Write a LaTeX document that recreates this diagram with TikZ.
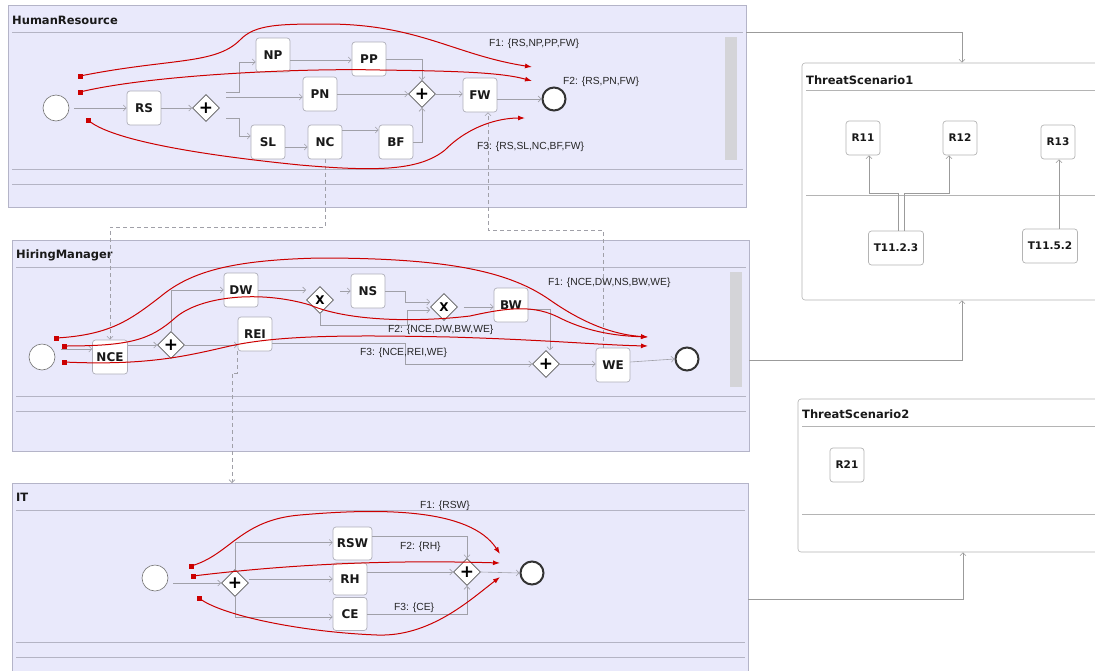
\documentclass[tikz,border=0pt]{standalone}
\usepackage{fontspec}
\setmainfont{DejaVu Sans}
\newfontfamily\lblfont{Liberation Sans}
\usetikzlibrary{shapes.geometric,arrows.meta}
\definecolor{lanefill}{RGB}{233,233,251}
\definecolor{laneborder}{RGB}{180,180,200}
\definecolor{clLine}{RGB}{180,180,196}
\definecolor{taskborder}{RGB}{175,175,185}
\definecolor{tsborder}{RGB}{180,180,180}
\definecolor{seqcol}{RGB}{160,160,168}
\definecolor{conncol}{RGB}{155,155,155}
\definecolor{redcol}{RGB}{204,0,0}
\definecolor{scrollcol}{RGB}{212,212,216}
\begin{document}
\begin{tikzpicture}[x=1pt,y=-1pt,
  lane/.style={draw=laneborder, fill=lanefill, line width=0.7pt, inner sep=0pt},
  lline/.style={draw=clLine, line width=0.7pt},
  lanetitle/.style={anchor=west, font=\fontsize{11.5}{13}\selectfont\bfseries, text=black!90, inner sep=0pt},
  task/.style={draw=taskborder, fill=white, rounded corners=3pt, minimum width=34pt, minimum height=34pt, inner sep=0pt, line width=0.7pt, font=\fontsize{12}{13}\selectfont\bfseries, text=black!90},
  tsnode/.style={task, draw=tsborder, font=\fontsize{10.5}{12}\selectfont\bfseries},
  gwp/.style={diamond, draw=black!65, fill=white, line width=0.8pt, minimum width=27pt, minimum height=27pt, inner sep=0pt, font=\fontsize{17}{17}\selectfont\bfseries},
  gwx/.style={gwp, font=\fontsize{12}{12}\selectfont\bfseries},
  startev/.style={circle, draw=black!55, fill=white, line width=0.6pt, minimum size=26pt, inner sep=0pt},
  endev/.style={circle, draw=black!80, fill=white, line width=2pt, minimum size=23pt, inner sep=0pt},
  seq/.style={draw=seqcol, line width=0.6pt, -{Straight Barb[length=3pt,width=6pt]}},
  dashconn/.style={seq, dashed, dash pattern=on 4pt off 3pt},
  conn/.style={draw=conncol, line width=0.6pt, -{Straight Barb[length=3pt,width=6pt]}},
  redflow/.style={draw=redcol, line width=1pt, -{Latex[length=7pt,width=5pt]}},
  rsq/.style={fill=redcol, minimum size=5pt, inner sep=0pt},
  flabel/.style={anchor=west, font=\lblfont\fontsize{10.3}{12}\selectfont, inner sep=0pt, text=black!85},
  tsbox/.style={draw=tsborder, fill=white, rounded corners=3pt, line width=0.6pt, inner sep=0pt},
  scroll/.style={fill=scrollcol, draw=none}
]
\useasboundingbox (0,0) rectangle (1095,670);
\clip (0,0) rectangle (1095,670);
\fill[white] (0,0) rectangle (1095,670);

% ---------------- lanes ----------------
\node[lane, minimum width=738pt, minimum height=202pt] (HRlane) at (377,106) {};
\draw[lline] (12,32) -- (743,32);
\draw[lline] (12,169) -- (743,169);
\draw[lline] (12,184) -- (743,184);
\fill[scroll] (725,37) rectangle (737,160);
\node[lanetitle] (HRt) at (12,20) {HumanResource};

\node[lane, minimum width=737pt, minimum height=211pt] (HMlane) at (380.5,345.5) {};
\draw[lline] (16,267) -- (746,267);
\draw[lline] (16,396) -- (746,396);
\draw[lline] (16,411) -- (746,411);
\fill[scroll] (730,272) rectangle (742,387);
\node[lanetitle] (HMt) at (16,255) {HiringManager};

\node[lane, minimum width=736pt, minimum height=207pt] (ITlane) at (380,586.5) {};
\draw[lline] (16,510) -- (745,510);
\draw[lline] (16,642) -- (745,642);
\draw[lline] (16,657) -- (745,657);
\node[lanetitle] (ITt) at (16,497) {IT};

% ---------------- threat scenarios ----------------
\node[tsbox, minimum width=320pt, minimum height=237pt] (TS1) at (962,181.5) {};
\draw[lline, draw=tsborder] (806,90) -- (1095,90);
\draw[lline, draw=tsborder] (806,195) -- (1095,195);
\node[lanetitle] (TS1t) at (806,80) {ThreatScenario1};

\node[tsbox, minimum width=330pt, minimum height=153pt] (TS2) at (963,475.5) {};
\draw[lline, draw=tsborder] (802,426) -- (1095,426);
\draw[lline, draw=tsborder] (802,514) -- (1095,514);
\node[lanetitle] (TS2t) at (802,414) {ThreatScenario2};

\node[tsnode] (R11) at (863,138) {R11};
\node[tsnode] (R12) at (960,138) {R12};
\node[tsnode] (R13) at (1058,142) {R13};
\node[tsnode, minimum width=55pt] (T1123) at (896,248) {T11.2.3};
\node[tsnode, minimum width=55pt] (T1152) at (1050,246) {T11.5.2};
\node[tsnode] (R21) at (847,465) {R21};
\draw[conn] ([xshift=2pt]T1123.north) -- ++(0,-37) -| ([xshift=6pt]R11.south);
\draw[conn] ([xshift=8pt]T1123.north) -- ++(0,-37) -| ([xshift=-11pt]R12.south);
\draw[conn] ([xshift=9pt]T1152.north) -- ([xshift=1pt]R13.south);

% ---------------- HumanResource nodes ----------------
\node[startev] (hrS) at (56,108) {};
\node[task] (RS) at (144,108) {RS};
\node[gwp] (hrG1) at (206,108) {+};
\node[task] (NP) at (273,55) {NP};
\node[task] (PP) at (369,59) {PP};
\node[task] (PN) at (320,94) {PN};
\node[task] (SL) at (268,142) {SL};
\node[task] (NC) at (325,142) {NC};
\node[task] (BF) at (396,142) {BF};
\node[gwp] (hrG2) at (422,94) {+};
\node[task] (FW) at (480,95) {FW};
\node[endev] (hrE) at (554,99) {};

\coordinate (g1a) at (226,92);
\coordinate (g1b) at (226,97);
\coordinate (g1c) at (226,118);
\draw[seq] ([xshift=5pt]hrS.east) -- (RS.west);
\draw[seq] (RS.east) -- (hrG1.west);
\draw[seq] (g1a) -- (239,92) |- ([yshift=-7pt]NP.west);
\draw[seq] (g1b) -- (PN.west |- g1b);
\draw[seq] (g1c) -- (239,118) |- ([yshift=6pt]SL.west);
\draw[seq] ([yshift=-5pt]SL.east) -- ([yshift=-5pt]NC.west);
\draw[seq] ([yshift=12pt]NC.east) -- ([yshift=12pt]BF.west);
\draw[seq] ([yshift=-5pt]NP.east) -- ([yshift=-1pt]PP.west);
\draw[seq] (PP.east) -| (hrG2.north);
\draw[seq] (PN.east) -- (hrG2.west);
\draw[seq] (BF.east) -| (hrG2.south);
\draw[seq] (hrG2.east) -- (FW.west |- hrG2.east);
\draw[seq] ([yshift=-4pt]FW.east) -- (hrE.west);

% ---------------- HiringManager nodes ----------------
\node[startev] (hmS) at (42,357) {};
\node[task, minimum width=35pt] (NCE) at (110,357) {NCE};
\node[gwp] (hmG1) at (171,345) {+};
\node[task] (DW) at (241,290) {DW};
\node[task] (REI) at (255,334) {REI};
\node[gwx] (hmX1) at (320,300) {X};
\node[task] (NS) at (368,291) {NS};
\node[gwx] (hmX2) at (444,307) {X};
\node[task] (BW) at (511,305) {BW};
\node[gwp] (hmG2) at (546,364) {+};
\node[task] (WE) at (613,365) {WE};
\node[endev] (hmE) at (687,359) {};

\draw[seq] ([xshift=6pt,yshift=8pt]hmS.east) -- ([yshift=8pt]NCE.west);
\draw[seq] ([yshift=12pt]NCE.east) -- (hmG1.west);
\draw[seq] (hmG1.north) |- (DW.west);
\draw[seq] (hmG1.east) -- (REI.west |- hmG1.east);
\draw[seq] (DW.east) -- (hmX1.west |- DW.east);
\draw[seq] ([xshift=6pt]hmX1.east |- NS.west) -- (NS.west);
\draw[seq] (hmX1.south) |- (407,325) |- ([yshift=-3pt]hmX2.west);
\draw[seq] (NS.east) -- (405,291) |- ([yshift=5pt]hmX2.west);
\draw[seq] ([xshift=6pt]hmX2.east) -- (BW.west |- hmX2.east);
\draw[seq] ([yshift=-4pt]BW.east) -| ([xshift=4pt]hmG2.north);
\draw[seq] ([yshift=-9pt]REI.east) -- (405,343) |- (hmG2.west);
\draw[seq] (hmG2.east) -- (WE.west |- hmG2.east);
\draw[seq] ([yshift=3pt]WE.east) -- (hmE.west);

% ---------------- IT nodes ----------------
\node[startev] (itS) at (155,578) {};
\node[gwp] (itG1) at (235,583) {+};
\node[task, minimum width=39pt, minimum height=33pt] (RSW) at (352.5,543.5) {RSW};
\node[task, minimum height=32pt] (RH) at (350,579) {RH};
\node[task, minimum height=33pt] (CE) at (350,614) {CE};
\node[gwp] (itG2) at (467,572) {+};
\node[endev] (itE) at (532,573) {};

\draw[seq] ([xshift=5pt,yshift=-5pt]itS.east) -- (itG1.west);
\draw[seq] (itG1.north) |- ([yshift=1pt]RSW.west);
\draw[seq] (itG1.east |- RH.west) -- (RH.west);
\draw[seq] (itG1.south) |- ([yshift=-3pt]CE.west);
\draw[seq] ([yshift=7pt]RSW.east) -| (itG2.north);
\draw[seq] ([yshift=7pt]RH.east) -- (itG2.west);
\draw[seq] (CE.east) -| (itG2.south);
\draw[seq] (itG2.east) -- (itE.west);

% ---------------- dashed message flows ----------------
\draw[dashconn] (NC.south) -- (325,227) -| (NCE.north);
\draw[dashconn] ([xshift=-10pt]WE.north) |- (488,230) -- ([xshift=8pt]FW.south);
\coordinate (itin) at (232,483);
\draw[dashconn] ([xshift=-18pt]REI.south) -- (237,373) -- (232,373) -- (itin);

% ---------------- lane to scenario connectors ----------------
\draw[conn] ([yshift=-28pt]HRlane.north east) -| (TS1.north);
\draw[conn] ([yshift=-14.5pt]HMlane.east) -| (TS1.south);
\draw[conn] ([yshift=-12.5pt]ITlane.east) -| (TS2.south);

% ---------------- red flows ----------------
\node[rsq] (hf1s) at (80,76) {};
\node[rsq] (hf2s) at (80,92) {};
\node[rsq] (hf3s) at (88,120) {};
\coordinate (hf1e) at (532,67);
\coordinate (hf2e) at (532,81);
\coordinate (hf3e) at (525,118);
\draw[redflow] (hf1s.center) .. controls (170,58) and (215,65) .. (240,40)
  .. controls (255,24) and (280,24) .. (330,24)
  .. controls (420,25) and (455,55) .. (hf1e);
\draw[redflow] (hf2s.center) .. controls (150,75) and (300,68) .. (380,70)
  .. controls (450,71) and (500,72) .. (hf2e);
\draw[redflow] (hf3s.center) .. controls (110,140) and (200,155) .. (300,165)
  .. controls (380,172) and (420,170) .. (445,150)
  .. controls (470,125) and (500,118) .. (hf3e);
\node[flabel] (hf1l) at (489,44) {F1: \{RS,NP,PP,FW\}};
\node[flabel] (hf2l) at (563,82) {F2: \{RS,PN,FW\}};
\node[flabel] (hf3l) at (477,147) {F3: \{RS,SL,NC,BF,FW\}};

\node[rsq] (mf1s) at (56,338) {};
\node[rsq] (mf2s) at (64,346) {};
\node[rsq] (mf3s) at (64,362) {};
\coordinate (mf1e) at (648,337);
\coordinate (mf3e) at (648,346);
\draw[redflow] (mf1s.center) .. controls (110,335) and (130,320) .. (160,297)
  .. controls (190,272) and (230,260) .. (320,258)
  .. controls (450,258) and (510,272) .. (550,300)
  .. controls (590,328) and (620,335) .. (mf1e);
\draw[redflow] (mf2s.center) .. controls (130,346) and (150,340) .. (175,318)
  .. controls (200,296) and (260,290) .. (310,305)
  .. controls (350,322) and (420,322) .. (470,316)
  .. controls (510,307) and (535,305) .. (560,318)
  .. controls (590,333) and (620,336) .. (mf1e);
\draw[redflow] (mf3s.center) .. controls (150,366) and (190,355) .. (230,346)
  .. controls (280,335) and (350,335) .. (450,337)
  .. controls (550,340) and (600,345) .. (mf3e);
\node[flabel] (mf1l) at (548,283) {F1: \{NCE,DW,NS,BW,WE\}};
\node[flabel] (mf2l) at (388,330) {F2: \{NCE,DW,BW,WE\}};
\node[flabel] (mf3l) at (360,353) {F3: \{NCE,REI,WE\}};

\node[rsq] (if1s) at (191,566) {};
\node[rsq] (if2s) at (193,576) {};
\node[rsq] (if3s) at (199,598) {};
\coordinate (if1e) at (500,554);
\coordinate (if2e) at (500,563);
\coordinate (if3e) at (500,577);
\draw[redflow] (if1s.center) .. controls (230,555) and (240,520) .. (300,515)
  .. controls (380,508) and (470,508) .. (if1e);
\draw[redflow] (if2s.center) .. controls (300,563) and (400,560) .. (if2e);
\draw[redflow] (if3s.center) .. controls (220,615) and (300,632) .. (377,635)
  .. controls (430,637) and (470,600) .. (if3e);
\node[flabel] (if1l) at (420,506) {F1: \{RSW\}};
\node[flabel] (if2l) at (400,547) {F2: \{RH\}};
\node[flabel] (if3l) at (394,608) {F3: \{CE\}};
\end{tikzpicture}
\end{document}
